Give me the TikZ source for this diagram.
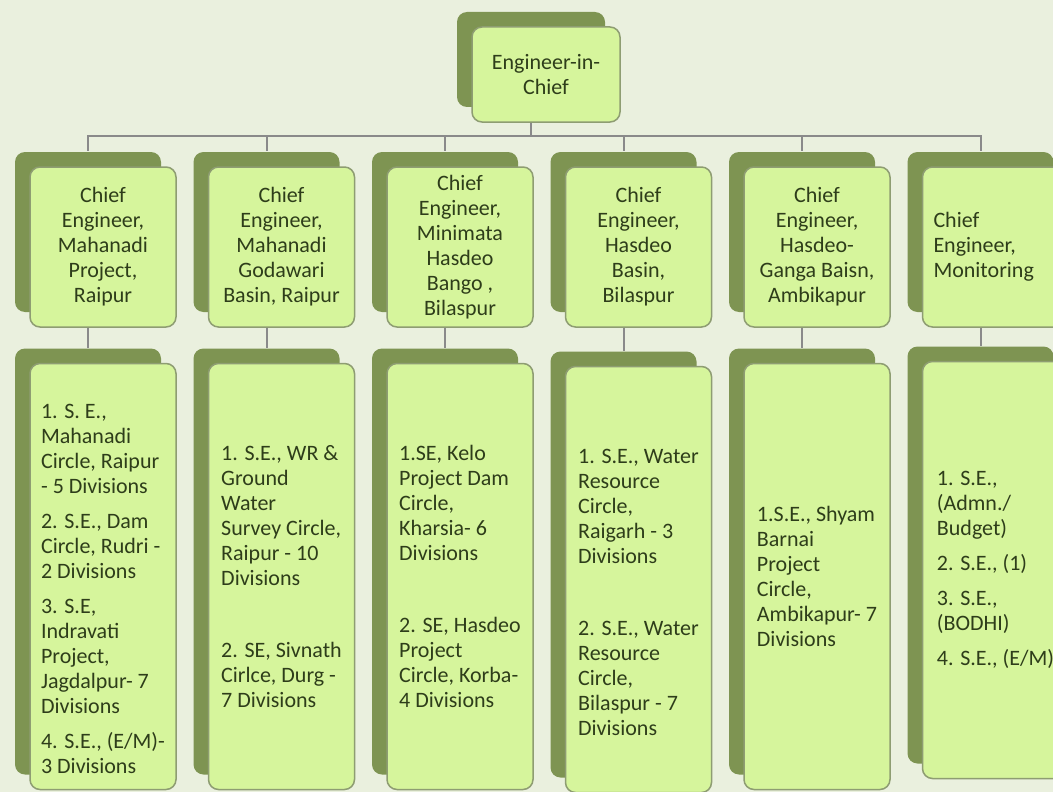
\documentclass[tikz,border=0pt]{standalone}
\usepackage{fontspec}
\setmainfont{Carlito}
\usepackage{tikz}
\usetikzlibrary{positioning,shadows}

\definecolor{bgpaper}{HTML}{EAF0DE}
\definecolor{leafgreen}{HTML}{D6F59C}
\definecolor{leafedge}{HTML}{8E9D72}
\definecolor{shadegreen}{HTML}{7E9452}
\definecolor{inkgreen}{HTML}{2E3D1A}
\definecolor{linkgrey}{HTML}{8A8A8A}

\begin{document}
\begin{tikzpicture}[
  x=1pt, y=-1pt,
  node distance=31pt,
  card/.style={draw=leafedge, line width=1.5pt, fill=leafgreen, rounded corners=10pt,
    general shadow={fill=shadegreen, shadow xshift=-15pt, shadow yshift=15pt},
    text=inkgreen, font=\fontsize{22}{25}\selectfont, inner sep=4pt},
  head/.style={card, align=center, minimum width=146pt, minimum height=160pt},
  post/.style={card, align=left, minimum width=146pt, minimum height=426pt},
  link/.style={draw=linkgrey, line width=2pt}
]
\fill[bgpaper] (0,0) rectangle (1053,792);
\useasboundingbox (0,0) rectangle (1053,792);

\node[card, align=center, minimum width=148pt, minimum height=95pt] (eic) at (546,74.5) {Engineer-in-\\Chief};

\node[head] (c1) at (103,247) {Chief\\Engineer,\\Mahanadi\\Project,\\Raipur};
\node[head, right=of c1] (c2) {Chief\\Engineer,\\Mahanadi\\Godawari\\Basin, Raipur};
\node[head, right=of c2] (c3) {Chief\\Engineer,\\Minimata\\Hasdeo\\Bango ,\\Bilaspur};
\node[head, right=of c3] (c4) {Chief\\Engineer,\\Hasdeo\\Basin,\\Bilaspur};
\node[head, right=of c4] (c5) {Chief\\Engineer,\\Hasdeo-\\Ganga Baisn,\\Ambikapur};
\node[head, align=left, text width=124pt, inner xsep=11pt, right=of c5] (c6) {Chief\\Engineer,\\Monitoring};

\node[post, below=35pt of c1] (s1) {\mbox{}\\[14pt]1. S. E.,\\Mahanadi\\Circle, Raipur\\- 5 Divisions\\[10pt]2. S.E., Dam\\Circle, Rudri -\\2 Divisions\\[10pt]3. S.E,\\Indravati\\Project,\\Jagdalpur- 7\\Divisions\\[10pt]4. S.E., (E/M)-\\3 Divisions};
\node[post, below=35pt of c2] (s2) {1. S.E., WR \&\\Ground\\Water\\Survey Circle,\\Raipur - 10\\Divisions\\[47pt]2. SE, Sivnath\\Cirlce, Durg -\\7 Divisions};
\node[post, below=35pt of c3] (s3) {1.SE, Kelo\\Project Dam\\Circle,\\Kharsia- 6\\Divisions\\[47pt]2. SE, Hasdeo\\Project\\Circle, Korba-\\4 Divisions};
\node[post, below=38pt of c4] (s4) {\mbox{}\\[15pt]1. S.E., Water\\Resource\\Circle,\\Raigarh - 3\\Divisions\\[47pt]2. S.E., Water\\Resource\\Circle,\\Bilaspur - 7\\Divisions};
\node[post, below=35pt of c5] (s5) {1.S.E., Shyam\\Barnai\\Project\\Circle,\\Ambikapur- 7\\Divisions};
\node[post, minimum height=417pt, below=33pt of c6] (s6) {1. S.E.,\\(Admn./\\Budget)\\[10pt]2. S.E., (1)\\[10pt]3. S.E.,\\(BODHI)\\[10pt]4. S.E., (E/M)};

\draw[link] ([xshift=-15pt]eic.south) -- ++(0,13) coordinate (bus);
\draw[link] (bus) -| ([xshift=-15pt,yshift=15pt]c1.north);
\draw[link] (bus) -| ([xshift=-15pt,yshift=15pt]c2.north);
\draw[link] (bus) -| ([xshift=-15pt,yshift=15pt]c3.north);
\draw[link] (bus) -| ([xshift=-15pt,yshift=15pt]c4.north);
\draw[link] (bus) -| ([xshift=-15pt,yshift=15pt]c5.north);
\draw[link] (bus) -| ([xshift=-15pt,yshift=15pt]c6.north);

\draw[link] ([xshift=-15pt]c1.south) -- ([xshift=-15pt,yshift=15pt]s1.north);
\draw[link] ([xshift=-15pt]c2.south) -- ([xshift=-15pt,yshift=15pt]s2.north);
\draw[link] ([xshift=-15pt]c3.south) -- ([xshift=-15pt,yshift=15pt]s3.north);
\draw[link] ([xshift=-15pt]c4.south) -- ([xshift=-15pt,yshift=15pt]s4.north);
\draw[link] ([xshift=-15pt]c5.south) -- ([xshift=-15pt,yshift=15pt]s5.north);
\draw[link] ([xshift=-15pt]c6.south) -- ([xshift=-15pt,yshift=15pt]s6.north);
\end{tikzpicture}
\end{document}
